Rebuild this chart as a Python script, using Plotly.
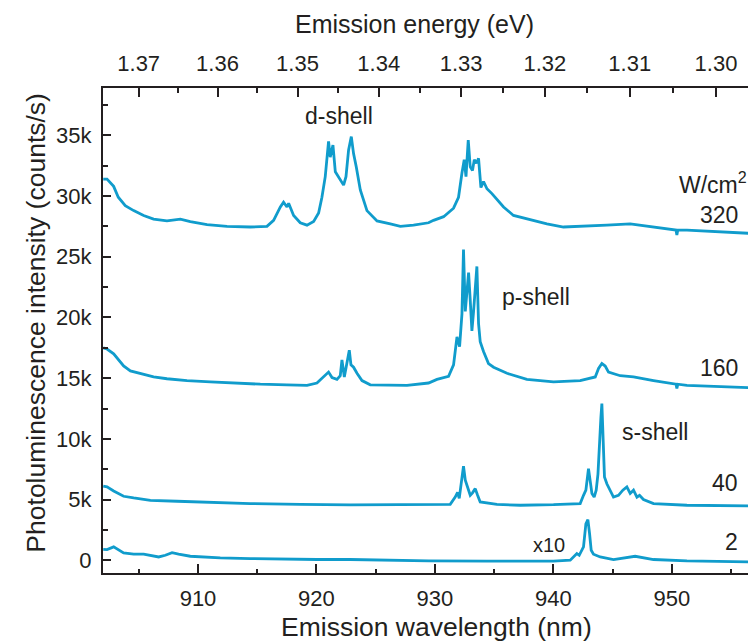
import plotly.graph_objects as go

# ---------------- data (wavelength in nm, intensity in k counts/s) ----------------
wl_320 = [902.0, 902.32, 902.88, 903.27, 903.86, 904.57, 905.41, 906.25, 907.38, 908.51,
          909.35, 910.76, 912.45, 914.41, 915.82, 916.38, 916.95, 917.22, 917.51, 917.65,
          918.07, 918.63, 919.20, 919.76, 920.18, 920.46, 920.74, 921.02, 921.16, 921.39,
          921.59, 921.78, 922.01, 922.29, 922.49, 922.71, 922.94, 923.13, 923.36, 923.70,
          924.26, 925.11, 926.23, 927.08, 928.19, 929.46, 929.88, 930.73, 931.57, 931.99,
          932.28, 932.47, 932.62, 932.81, 932.98, 933.17, 933.32, 933.49, 933.68, 933.88,
          934.10, 934.39, 934.81, 935.23, 935.79, 936.63, 937.76, 939.45, 940.85, 942.83,
          944.51, 946.48, 947.89, 949.58, 950.35, 950.42, 950.50, 951.27, 954.08, 956.89, 957.1]
pl_320 = [31.4, 31.4, 30.8, 29.9, 29.2, 28.8, 28.4, 28.1, 27.95, 28.1,
          27.9, 27.65, 27.5, 27.45, 27.5, 28.0, 29.1, 29.5, 29.1, 29.4,
          28.4, 27.8, 27.6, 27.9, 28.6, 29.9, 31.6, 34.5, 33.2, 34.2,
          32.0, 31.7, 31.3, 30.9, 31.6, 33.8, 34.9, 33.5, 32.4, 30.5,
          28.8, 27.95, 27.7, 27.5, 27.6, 27.8, 28.0, 28.3, 29.0, 29.9,
          31.9, 33.0, 31.6, 34.6, 32.4, 32.1, 33.0, 32.7, 33.1, 30.7,
          31.2, 30.6, 30.2, 29.7, 29.1, 28.4, 28.1, 27.7, 27.45, 27.5,
          27.6, 27.7, 27.5, 27.3, 27.2, 26.8, 27.2, 27.2, 27.05, 26.9, 26.9]

wl_160 = [902.0, 902.32, 902.88, 903.30, 903.72, 904.29, 905.13, 906.25, 907.38, 909.07,
          911.04, 913.00, 915.26, 917.51, 919.20, 920.04, 920.55, 921.02, 921.31, 921.73,
          922.01, 922.15, 922.35, 922.57, 922.77, 922.91, 923.13, 923.42, 923.84, 924.54,
          925.95, 927.64, 929.46, 930.17, 931.15, 931.57, 931.86, 932.08, 932.28, 932.41,
          932.56, 932.70, 932.84, 932.98, 933.12, 933.26, 933.40, 933.54, 933.68, 933.82,
          934.10, 934.52, 934.95, 936.08, 937.76, 940.01, 942.26, 943.53, 943.81, 944.09,
          944.37, 944.65, 945.64, 946.76, 948.45, 950.35, 950.42, 950.50, 951.27, 953.51,
          956.89, 957.1]
pl_160 = [17.5, 17.4, 17.0, 16.5, 16.0, 15.6, 15.4, 15.1, 14.95, 14.8,
          14.7, 14.6, 14.5, 14.45, 14.4, 14.6, 15.1, 15.5, 15.05, 14.9,
          15.2, 16.5, 15.1, 16.2, 17.3, 16.1, 15.9, 15.4, 14.8, 14.45,
          14.4, 14.4, 14.6, 14.9, 15.15, 16.1, 18.4, 17.6, 20.3, 25.6,
          20.5, 22.0, 23.7, 21.4, 18.9, 20.5, 22.5, 24.2, 19.5, 18.0,
          17.2, 16.2, 15.9, 15.4, 14.9, 14.7, 14.8, 15.1, 15.8, 16.2,
          16.0, 15.5, 15.2, 15.1, 14.8, 14.5, 14.15, 14.5, 14.4, 14.3,
          14.2, 14.2]

wl_40 = [902.0, 902.32, 902.88, 903.72, 904.57, 905.98, 908.23, 911.04, 914.41, 918.63,
         922.85, 927.08, 929.46, 931.29, 931.71, 931.91, 932.05, 932.28, 932.41, 932.56,
         932.75, 932.98, 933.17, 933.40, 933.60, 933.82, 935.23, 937.20, 940.01, 942.26,
         942.54, 942.74, 942.96, 943.10, 943.25, 943.44, 943.61, 943.76, 943.89, 944.01,
         944.09, 944.20, 944.31, 944.51, 944.79, 945.07, 945.49, 945.86, 946.20, 946.48,
         946.76, 947.05, 947.27, 947.60, 948.45, 951.27, 956.89, 957.1]
pl_40 = [6.1, 6.04, 5.7, 5.27, 5.13, 4.94, 4.86, 4.75, 4.67, 4.61,
         4.56, 4.58, 4.58, 4.6, 5.2, 5.6, 5.1, 6.6, 7.75, 6.6,
         6.04, 5.35, 5.55, 5.9, 5.35, 4.8, 4.6, 4.53, 4.58, 4.67,
         5.35, 5.77, 7.55, 6.6, 5.5, 5.2, 5.77, 7.1, 10.0, 11.8,
         12.9, 9.9, 6.86, 6.3, 5.77, 5.2, 5.35, 5.77, 6.04, 5.5,
         5.77, 5.2, 5.35, 5.0, 4.67, 4.53, 4.47, 4.47]

wl_2 = [902.0, 902.32, 902.88, 903.72, 904.57, 905.41, 906.68, 907.24, 907.81, 908.36,
        909.35, 910.47, 911.88, 914.41, 917.22, 920.04, 922.85, 925.66, 929.46, 934.39,
        940.01, 941.42, 941.76, 941.98, 942.18, 942.37, 942.54, 942.74, 942.91, 943.05,
        943.19, 943.38, 943.95, 945.07, 946.90, 948.45, 951.27, 956.89, 957.1]
pl_2 = [0.9, 0.88, 1.1, 0.6, 0.5, 0.5, 0.27, 0.41, 0.63, 0.5,
        0.33, 0.27, 0.19, 0.14, 0.08, 0.06, 0.06, 0.0, -0.05, -0.08,
        -0.08, 0.0, 0.33, 0.55, 0.41, 0.82, 1.1, 3.0, 3.35, 2.2,
        0.82, 0.5, 0.27, 0.06, 0.33, 0.06, -0.05, -0.14, -0.14]

wl_ticks = [910, 920, 930, 940, 950]
wl_minor = [905, 915, 925, 935, 945, 955]
y_ticks = [0, 5, 10, 15, 20, 25, 30, 35]
y_labels = ["0", "5k", "10k", "15k", "20k", "25k", "30k", "35k"]
energy_ticks = [1.37, 1.36, 1.35, 1.34, 1.33, 1.32, 1.31, 1.30]
energy_labels = ["1.37", "1.36", "1.35", "1.34", "1.33", "1.32", "1.31", "1.30"]
energy_minor = [1.375, 1.365, 1.355, 1.345, 1.335, 1.325, 1.315, 1.305, 1.295]
HC = 1239.84  # eV*nm

# ---------------- layout geometry (page pixels) ----------------
OFF = 8                      # default body margin of the html page
PAGE_W, PAGE_H = 756, 644
W, H = PAGE_W - OFF, PAGE_H - OFF
PL, PT, PR, PB = 102.7, 87.7, 756, 572.7
X_RANGE = [901.98, 957.1]
Y_RANGE = [-1.05, 38.9]

def px(xp):
    return (xp - PL) / (PR - PL)

def py(yp):
    return (PB - yp) / (PB - PT)

LINE = "#109ccc"
INK = "#231f20"
FONT = "Liberation Sans, Arial, Helvetica, sans-serif"

fig = go.Figure()
for wl, pl in [(wl_320, pl_320), (wl_160, pl_160), (wl_40, pl_40), (wl_2, pl_2)]:
    fig.add_trace(go.Scatter(x=wl, y=pl, mode="lines",
                             line=dict(color=LINE, width=2.8),
                             hoverinfo="skip", showlegend=False))
# invisible trace on top axis
fig.add_trace(go.Scatter(x=[HC / e for e in energy_ticks], y=[None] * len(energy_ticks),
                         xaxis="x2", mode="lines", showlegend=False, hoverinfo="skip"))

axis_common = dict(showline=True, linecolor=INK, linewidth=2, showgrid=False,
                   zeroline=False, ticks="inside", tickcolor=INK, tickwidth=1.6,
                   tickfont=dict(family=FONT, size=22, color=INK))

fig.update_layout(
    width=W, height=H,
    margin=dict(l=PL - OFF, r=PAGE_W - PR, t=PT - OFF, b=PAGE_H - PB, pad=0, autoexpand=False),
    plot_bgcolor="white", paper_bgcolor="white",
    font=dict(family=FONT, size=22, color=INK),
    showlegend=False,
    xaxis=dict(range=X_RANGE, tickmode="array", tickvals=wl_ticks, ticklen=9,
               minor=dict(tickmode="array", tickvals=wl_minor, ticks="inside",
                          ticklen=4.5, tickcolor=INK, tickwidth=1.6),
               ticklabelstandoff=5, **axis_common),
    xaxis2=dict(range=X_RANGE, overlaying="x", side="top", anchor="y",
                tickmode="array", tickvals=[HC / e for e in energy_ticks],
                ticktext=energy_labels, ticklen=9,
                minor=dict(tickmode="array", tickvals=[HC / e for e in energy_minor],
                           ticks="inside", ticklen=4.5, tickcolor=INK, tickwidth=1.6),
                ticklabelstandoff=6, **axis_common),
    yaxis=dict(range=Y_RANGE, tickmode="array", tickvals=y_ticks, ticktext=y_labels,
               ticklen=8, minor=dict(dtick=2.5, tick0=0, ticks="inside", ticklen=5,
                                     tickcolor=INK, tickwidth=1.6),
               ticklabelstandoff=5, **axis_common),
)

ann = [
    dict(text="Emission wavelength (nm)", x=px(436), y=py(627), size=26.5, xa="center"),
    dict(text="Emission energy (eV)", x=px(414), y=py(23.5), size=25, xa="center"),
    dict(text="d-shell", x=px(339), y=py(116), size=23, xa="center"),
    dict(text="p-shell", x=px(500), y=py(297), size=23, xa="left"),
    dict(text="s-shell", x=px(620), y=py(432), size=23, xa="left"),
    dict(text="W/cm<sup>2</sup>", x=px(749), y=py(183), size=23, xa="right"),
    dict(text="320", x=px(740), y=py(215), size=23, xa="right"),
    dict(text="160", x=px(740), y=py(368), size=23, xa="right"),
    dict(text="40", x=px(740), y=py(483), size=23, xa="right"),
    dict(text="2", x=px(740), y=py(542), size=23, xa="right"),
    dict(text="x10", x=px(531), y=py(545), size=20, xa="left"),
]
for a in ann:
    fig.add_annotation(text=a["text"], x=a["x"], y=a["y"], xref="paper", yref="paper",
                       xanchor=a["xa"], yanchor="middle", showarrow=False,
                       font=dict(family=FONT, size=a["size"], color=INK))

fig.add_annotation(text="Photoluminescence intensity (counts/s)", x=px(36), y=py(322),
                   xref="paper", yref="paper", xanchor="center", yanchor="middle",
                   textangle=-90, showarrow=False,
                   font=dict(family=FONT, size=26.5, color=INK))

fig.write_html("out.html")
